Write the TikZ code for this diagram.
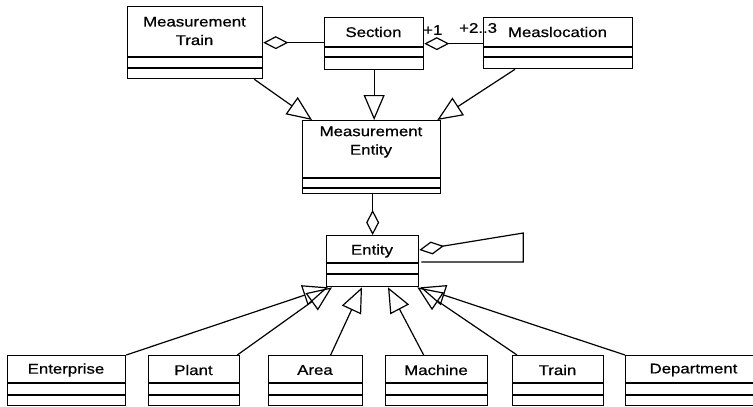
\documentclass[tikz,border=0pt]{standalone}
\usepackage{fontspec}
\setmainfont{Liberation Sans}[FakeStretch=1.2, FakeBold=0.6]
\usetikzlibrary{arrows.meta,calc}
\tikzset{
  clsbox/.style={draw, line width=1.3pt, fill=white, inner sep=0pt, anchor=north west},
  clstext/.style={align=center, inner sep=0pt},
  gen/.style={line width=1.2pt, -{Triangle[open, length=25pt, width=21pt, line width=1.2pt]}},
  agg/.style={line width=1.2pt, {Diamond[open, length=25pt, width=13pt, line width=1.2pt]}-},
  mult/.style={inner sep=0pt, anchor=west}
}
% name, x1, y1, x2, y2, line1, line2, text y, text
\newcommand\umlcls[9]{%
  \node[clsbox, minimum width={(#4-#2)*1pt}, minimum height={(#5-#3)*1pt}] (#1) at (#2,#3) {};
  \draw[line width=1.3pt] (#2,#6) -- (#4,#6) (#2,#7) -- (#4,#7);
  \node[clstext] (#1t) at ({(#2+#4)/2},#8) {#9};
}
\begin{document}
\begin{tikzpicture}[x=1pt,y=-1pt, font=\fontsize{14}{18.5}\selectfont]
\useasboundingbox (0,0) rectangle (753,407);
\clip (0,0) rectangle (753,407);

\umlcls{mt}{127}{6}{262}{78}{57}{68}{31}{Measurement\\Train}
\umlcls{sec}{324}{17}{423}{69}{47}{57}{32}{Section}
\umlcls{mloc}{483}{17}{632}{68}{47}{57}{32}{Measlocation}
\umlcls{me}{302}{120}{440}{193}{178}{188}{142}{Measurement\\Entity}
\umlcls{ent}{326}{235}{418}{286}{263}{274}{251}{Entity}

\umlcls{enter}{7}{355}{125}{405}{383}{395}{370}{Enterprise}
\umlcls{plant}{148}{355}{239}{405}{383}{395}{370}{Plant}
\umlcls{area}{268}{355}{362}{405}{383}{395}{370}{Area}
\umlcls{mach}{385}{355}{487}{405}{383}{395}{370}{Machine}
\umlcls{train}{512}{355}{603}{405}{383}{395}{370}{Train}
\umlcls{dept}{625}{355}{762}{405}{383}{395}{370}{Department}

% multiplicities
\node[mult] (m1) at (423,30) {+1};
\node[mult] (m2) at (459,28) {+2..3};

% aggregations
\draw[agg] (mt.east) -- (sec.west |- mt.east);
\draw[agg] (sec.east) -- (mloc.west |- sec.east);
\draw[agg] (ent.north) -- (ent.north |- me.south);
\coordinate (loopa) at ($(ent.north east)+(104,-2)$);
\coordinate (loopb) at ($(ent.north east)+(104,27)$);
\draw[agg] ($(ent.north east)+(0,15)$) -- (loopa) -- (loopb) -- ($(ent.north east)+(2,27)$);

% generalizations to Measurement Entity
\draw[gen] ($(mt.south east)+(-9,0)$) -- ($(me.north west)+(10,0)$);
\draw[gen] (sec.south) -- (sec.south |- me.north);
\draw[gen] ($(mloc.south west)+(32,0)$) -- ($(me.north east)+(-4,0)$);

% generalizations to Entity
\draw[gen] (enter.north east) -- ($(ent.south west)+(2,0)$);
\draw[gen] ($(plant.north east)+(-3,0)$) -- ($(ent.south west)+(6,0)$);
\draw[gen] ($(area.north)+(15,0)$) -- ($(ent.south west)+(36,0)$);
\draw[gen] ($(mach.north)+(-13,0)$) -- ($(ent.south west)+(62,0)$);
\draw[gen] ($(train.north west)+(5,0)$) -- ($(ent.south east)+(-2,0)$);
\draw[gen] (dept.north west) -- ($(ent.south east)+(1,0)$);
\end{tikzpicture}
\end{document}
